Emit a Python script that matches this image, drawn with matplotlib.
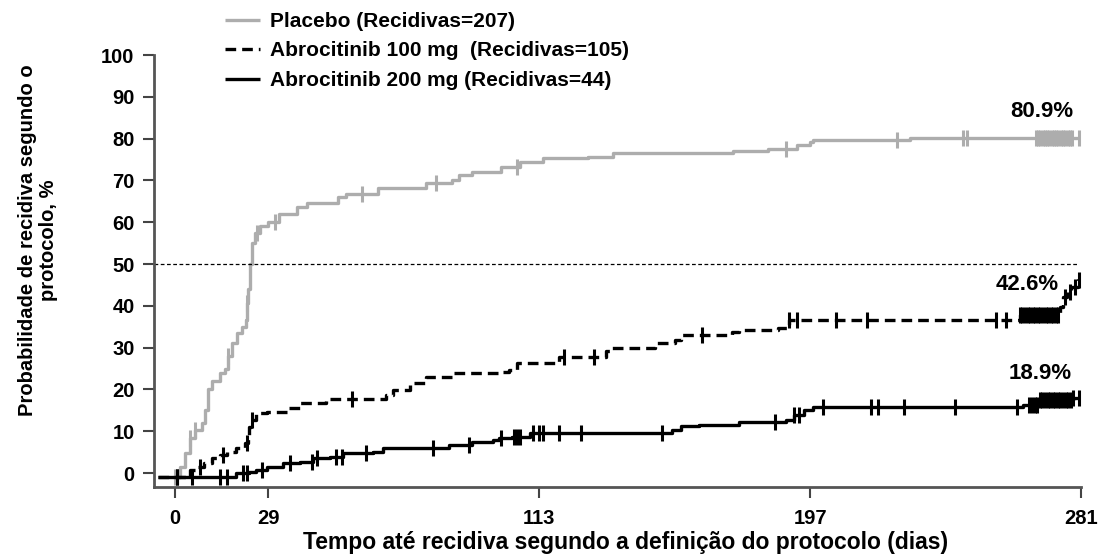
import matplotlib
matplotlib.use("Agg")
import matplotlib.pyplot as plt
import numpy as np

plt.rcParams["font.family"] = ["Liberation Sans", "DejaVu Sans"]
plt.rcParams["font.weight"] = "bold"

# cumulative relapse probability (%), step curves
placebo_days = [-0.6, 1.5, 3, 4.6, 6.2, 8.4, 9.3, 10.2, 11.5, 14, 15.5, 16.4, 17.6, 19.2, 20.7, 22,
                22.3, 22.6, 23.2, 23.8, 24.8, 26.3, 28.8, 32.2, 37.8, 40.9, 50.5, 53, 63, 78, 86, 88,
                92, 101, 107, 114, 128, 136, 173, 184, 193, 197, 198, 228]
placebo_pct = [-1, 1.5, 4.8, 8.4, 10.3, 12, 15, 20, 22, 24, 25, 28, 31, 33.5, 35, 36.6,
               40.7, 44, 50, 55, 57.4, 59, 60, 62, 63.6, 64.6, 66, 66.7, 68.2, 69.4, 70, 71.3,
               72, 73.2, 74.4, 75.3, 75.6, 76.6, 77, 77.5, 78.5, 79.2, 79.7, 80.1]
placebo_censor = [0, 4.6, 6.2, 16.4, 22.3, 25.3, 31, 58, 81, 106, 189.5, 224, 244.5, 245.5,
                  267, 267.7, 268.4, 269.1, 269.8, 270.5, 271.2, 271.9, 272.6, 273.3, 274, 274.7,
                  275.4, 276.1, 276.8, 277.5, 278.2, 280.5]

abro100_days = [-5.3, 4.6, 7, 9, 11.5, 14, 16, 19, 21.7, 22.6, 23, 23.7, 25, 28.5, 34.6, 38.7,
                47, 65.6, 67.5, 73, 78, 86, 100.6, 103.7, 106, 119, 133.7, 135.6, 149, 155, 157,
                172.8, 175, 187, 190.4, 262, 274.6, 275.5, 276.5, 278, 280]
abro100_pct = [-1, 0.7, 1.5, 2.4, 3.6, 4.3, 5, 6, 7.2, 8.6, 11, 12.7, 14.3, 14.6, 15.6, 16.7,
               17.7, 18.7, 19.9, 21.5, 23, 23.9, 24.2, 24.6, 26.3, 27.8, 29.2, 29.9, 31.1, 31.8, 33,
               33.7, 34.2, 34.7, 36.6, 37.8, 39.7, 42, 43.3, 44.5, 46.2]
abro100_censor = [0.6, 7.7, 14.9, 22.3, 24, 55, 120.7, 130, 163.5, 190.4, 193, 205, 214.5,
                  254.5, 257.6, 262, 262.8, 263.6, 264.4, 265.2, 266, 266.8, 267.6, 268.4, 269.2,
                  270, 270.8, 271.6, 272.4, 273.2, 274, 276, 277.5, 279, 280.5]

abro200_days = [-5.3, 19, 23, 25, 28.5, 33.4, 38.7, 42.7, 48, 52, 61.3, 64.4, 85, 92, 98.5,
                100.6, 104.6, 110, 154, 157, 162.5, 175, 189.5, 192, 195, 198, 263, 268, 278.6]
abro200_pct = [-1, 0, 0.3, 0.7, 1.5, 2.4, 2.7, 3.6, 3.9, 4.8, 5.1, 6, 6.7, 7.4, 7.9,
               8.4, 8.6, 9.6, 10.3, 11.2, 11.5, 12.2, 12.7, 13.9, 15, 15.8, 16.3, 17.5, 18]
abro200_censor = [0.6, 5.3, 14, 16, 21, 22.3, 27, 35.6, 42.4, 44, 50, 51.7, 59.4, 80, 91.3,
                  101, 105, 106, 107, 111, 113, 114, 119, 126, 151, 186, 192, 193.5, 201, 216,
                  218, 226, 242, 261, 265, 265.8, 266.6, 267.4, 268.2, 269, 269.8, 270.6, 271.4,
                  272.2, 273, 273.8, 274.6, 275.4, 276.2, 277, 277.8, 278.6, 280.5]

labels = ["Placebo (Recidivas=207)",
          "Abrocitinib 100 mg  (Recidivas=105)",
          "Abrocitinib 200 mg (Recidivas=44)"]
final_pct = ["80.9%", "42.6%", "18.9%"]
x_ticks = [0, 29, 113, 197, 281]
y_ticks = list(range(0, 101, 10))
END_DAY = 281

GREY = "#adadad"


def draw_curve(ax, days, pct, censor, color, ls, label):
    days = np.asarray(days, float)
    pct = np.asarray(pct, float)
    xs = np.append(days, END_DAY)
    ys = np.append(pct, pct[-1])
    ax.step(xs, ys, where="post", color=color, lw=2.4, ls=ls, label=label,
            solid_capstyle="butt", dash_capstyle="butt")
    c = np.asarray(censor, float)
    idx = np.clip(np.searchsorted(days, c, side="right") - 1, 0, len(pct) - 1)
    ax.plot(c, pct[idx], ls="none", marker="|", ms=11, mew=2.2, color=color)


fig = plt.figure(figsize=(11.03, 5.54), dpi=100)
ax = fig.add_axes([0.1396, 0.1209, 0.8405, 0.7798])

dash = (0, (3.2, 1.8))
draw_curve(ax, placebo_days, placebo_pct, placebo_censor, GREY, "-", labels[0])
draw_curve(ax, abro100_days, abro100_pct, abro100_censor, "black", dash, labels[1])
draw_curve(ax, abro200_days, abro200_pct, abro200_censor, "black", "-", labels[2])

ax.plot([-6.5, 280], [50, 50], color="black", lw=0.9, ls=(0, (3, 2)))

ax.set_xlim(-6.5, END_DAY)
ax.set_ylim(-3.35, 100)
ax.set_xticks(x_ticks)
ax.set_yticks(y_ticks)
ax.tick_params(axis="both", labelsize=14.5, length=8, width=1.5, color="#444444")
ax.tick_params(axis="y", pad=6)
ax.tick_params(axis="x", pad=8)
for s in ("top", "right"):
    ax.spines[s].set_visible(False)
for s in ("left", "bottom"):
    ax.spines[s].set_color("#555555")
    ax.spines[s].set_linewidth(2)

for txt, (x, y) in zip(final_pct, [(268.8, 86.4), (264.2, 45.2), (268.2, 23.9)]):
    ax.text(x, y, txt, ha="center", va="center", fontsize=16, fontweight="bold")

ax.set_xlabel("Tempo até recidiva segundo a definição do protocolo (dias)", fontsize=16.5,
              fontweight="bold", va="center")
ax.xaxis.set_label_coords((626 - 154) / 927, ((554 - 543) / 554 - 0.1209) / 0.7798)
fig.text(38 / 1103, 1 - 240 / 554, "Probabilidade de recidiva segundo o\nprotocolo, %",
         rotation=90, ha="center", va="center", multialignment="center",
         fontsize=14.5, fontweight="bold", linespacing=1.15)

ax.legend(loc="upper left", bbox_to_anchor=(225 / 1103, 1 - 12 / 554),
          bbox_transform=fig.transFigure, frameon=False, fontsize=15,
          handlelength=1.7, handletextpad=0.45, borderpad=0, borderaxespad=0,
          labelspacing=0.5)

fig.savefig("out.png", dpi=100)
